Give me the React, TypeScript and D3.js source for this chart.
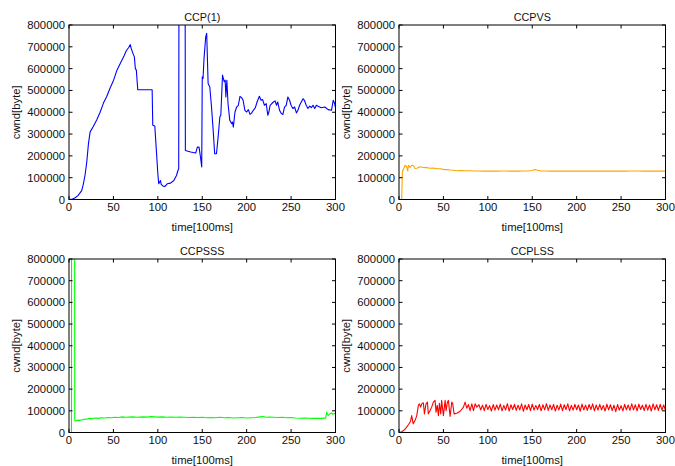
import React from "react";
import * as d3 from "d3";

// Axis ticks shared by all four panels
const timeTicks = [0, 50, 100, 150, 200, 250, 300];
const cwndTicks = [0, 100000, 200000, 300000, 400000, 500000, 600000, 700000, 800000];

// CCP(1)
const ccp1Time = [
  0, 4, 7, 10, 12, 14.3, 16.2, 18, 20, 21.9, 23.8, 27.5, 31.3, 35, 38.9, 42.6, 46.4, 50.2, 54, 57.7,
  61.5, 64.5, 67.2, 69, 70, 72, 73.6, 74.7, 75.8, 77.4, 93.6, 94.3, 96.6, 98.1, 100, 101, 103, 103.8,
  106, 108, 110.6, 114.3, 118, 121, 122.6, 123.5, 124, 130.5, 131, 137, 142.6, 144.5, 146.4, 148,
  149.4, 150, 150.9, 152, 153.9, 155, 156.6, 158.5, 160.4, 162.3, 164, 166, 167.9, 169.8, 170.9,
  172.8, 174.7, 175.8, 176.6, 177.7, 179, 181, 183, 184, 185, 186.8, 188.7, 190.6, 192.5, 194.3,
  196, 198, 200, 201.9, 203.8, 205.7, 207.5, 209.8, 211.7, 214.3, 216.2, 218, 220, 222, 223.8, 225,
  226.4, 228.3, 230.2, 232, 233.6, 235, 237, 239, 240.8, 242.6, 244.5, 246.4, 248.3, 250, 252, 254,
  256, 257.7, 259.6, 261.5, 263.4, 265, 267, 269, 271, 272.8, 274.7, 276.6, 278.5, 280.4, 284, 288,
  291.7, 295.5, 297.4, 299, 300,
];
const ccp1Cwnd = [
  0, 2000, 8000, 18000, 28000, 41000, 72000, 110000, 172000, 256000, 310000, 336000, 366000, 400000,
  443000, 473000, 512000, 547000, 593000, 624000, 654000, 682000, 697000, 710000, 693000, 670000,
  654000, 600000, 593000, 503000, 503000, 340000, 337000, 240000, 118000, 72000, 87000, 69000, 61000,
  60000, 72000, 75000, 87000, 110000, 133000, 140000, 1600000, 1600000, 225000, 218000, 213000,
  240000, 240000, 195000, 149000, 562000, 555000, 647000, 746000, 762000, 532000, 516000, 425000,
  317000, 210000, 210000, 287000, 378000, 386000, 570000, 540000, 547000, 470000, 547000, 440000,
  363000, 348000, 355000, 332000, 400000, 424000, 432000, 473000, 467000, 455000, 409000, 401000,
  412000, 390000, 397000, 409000, 421000, 447000, 473000, 455000, 458000, 432000, 440000, 386000,
  401000, 432000, 440000, 447000, 452000, 432000, 447000, 409000, 394000, 390000, 424000, 432000,
  470000, 455000, 432000, 417000, 424000, 397000, 409000, 432000, 447000, 462000, 455000, 432000,
  417000, 428000, 421000, 432000, 417000, 432000, 428000, 421000, 424000, 412000, 409000, 455000,
  440000, 421000,
];

// CCPVS
const ccpvsTime = [
  0, 3, 3.8, 5, 6.8, 8.6, 9.8, 10.5, 12.4, 14.3, 16, 18, 20, 23.7, 27.4, 31, 35, 39, 42.5, 46, 50,
  54, 57.5, 61, 65, 70, 75, 80, 85, 90, 95, 100, 105, 110, 115, 120, 125, 130, 135, 140, 145, 150,
  153, 156, 160, 165, 170, 175, 180, 185, 190, 195, 200, 205, 210, 215, 220, 225, 230, 235, 240,
  245, 250, 255, 260, 265, 270, 275, 280, 285, 290, 295, 300,
];
const ccpvsCwnd = [
  0, 0, 127000, 140000, 157000, 150000, 131000, 157000, 147000, 157000, 156000, 142000, 143000,
  150000, 147000, 146000, 143000, 144000, 141000, 141000, 138000, 137000, 135000, 134000, 132000,
  133000, 132000, 132000, 131000, 131000, 130000, 130000, 131000, 130000, 131000, 131000, 130000,
  131000, 130000, 131000, 131000, 133000, 138000, 134000, 131000, 131000, 130000, 131000, 130000,
  130000, 131000, 130000, 130000, 130000, 131000, 130000, 130000, 131000, 130000, 130000, 131000,
  130000, 131000, 130000, 131000, 131000, 131000, 130000, 131000, 130000, 130000, 131000, 130000,
];

// CCPSSS
const ccpsssTime = [
  0, 2.8, 3, 6.2, 6.5, 8, 10, 12, 14, 16, 18, 20, 22, 24, 26, 28, 30, 33, 36, 40, 44, 48, 52, 56,
  60, 64, 68, 72, 76, 80, 84, 88, 92, 96, 100, 105, 110, 115, 120, 125, 130, 135, 140, 145, 150,
  155, 160, 165, 170, 175, 180, 185, 190, 195, 200, 205, 210, 215, 218, 222, 226, 230, 235, 240,
  245, 250, 255, 260, 265, 270, 275, 280, 284, 287, 289, 290, 291.7, 293.5, 295.5, 297, 299, 300,
];
const ccpsssCwnd = [
  0, 0, 2000000, 2000000, 55000, 54000, 57000, 56000, 58000, 60000, 62000, 61000, 64000, 65000,
  63000, 66000, 67000, 65000, 68000, 67000, 69000, 68000, 70000, 69000, 72000, 70000, 71000, 72000,
  70000, 71000, 72000, 71000, 73000, 72000, 71000, 72000, 70000, 71000, 70000, 71000, 70000, 69000,
  70000, 69000, 70000, 68000, 69000, 68000, 70000, 68000, 69000, 67000, 68000, 69000, 67000, 68000,
  69000, 72000, 74000, 70000, 71000, 70000, 69000, 70000, 68000, 69000, 67000, 66000, 67000, 66000,
  65000, 66000, 65000, 67000, 66000, 94000, 78000, 85000, 90000, 84000, 88000, 86000,
];

// CCPLSS
const ccplssTime = [
  0, 3, 5, 7, 9, 11, 13, 14.3, 16, 18, 20, 21.8, 23, 24.4, 25.6, 27.4, 28.6, 30.4, 32, 33, 35, 36.8,
  38.7, 40.6, 41.7, 43, 44.4, 45.5, 47, 48, 50, 51.9, 53, 54.5, 55.6, 57.5, 59.4, 60.5, 62, 65, 68.8,
  72.6, 74.4, 76.3, 78.2, 80, 82, 83.8, 85.7, 87.6,
  90, 92, 94, 96, 98, 100, 102, 104, 106, 108, 110, 112, 114, 116, 118, 120, 122, 124, 126, 128,
  130, 132, 134, 136, 138, 140, 142, 144, 146, 148, 150, 152, 154, 156, 158, 160, 162, 164, 166, 168,
  170, 172, 174, 176, 178, 180, 182, 184, 186, 188, 190, 192, 194, 196, 198, 200, 202, 204, 206, 208,
  210, 212, 214, 216, 218, 220, 222, 224, 226, 228, 230, 232, 234, 236, 238, 240, 242, 244, 246, 248,
  250, 252, 254, 256, 258, 260, 262, 264, 266, 268, 270, 272, 274, 276, 278, 280, 282, 284, 286, 288,
  290, 292, 294, 296, 298, 300,
];
const ccplssCwnd = [
  0, 3000, 9000, 16000, 27000, 38000, 52000, 78000, 40000, 55000, 78000, 125000, 132000, 117000,
  132000, 137000, 86000, 132000, 140000, 86000, 101000, 117000, 140000, 148000, 94000, 125000, 78000,
  135000, 86000, 148000, 78000, 148000, 101000, 140000, 148000, 74000, 140000, 132000, 86000, 89000,
  98000, 117000, 140000, 112000, 129000, 101000, 132000, 101000, 132000, 117000,
  128000, 104000, 126000, 101000, 130000, 106000, 124000, 99000, 129000, 103000,
  127000, 105000, 131000, 100000, 125000, 104000, 133000, 99000, 128000, 106000,
  130000, 102000, 126000, 104000, 132000, 98000, 127000, 105000, 129000, 101000,
  131000, 103000, 125000, 106000, 130000, 100000, 128000, 104000, 133000, 102000,
  127000, 105000, 130000, 99000, 126000, 104000, 131000, 101000, 128000, 106000,
  132000, 100000, 125000, 103000, 130000, 105000, 127000, 98000, 131000, 104000,
  126000, 102000, 129000, 106000, 132000, 100000, 127000, 103000, 130000, 105000,
  125000, 99000, 131000, 104000, 128000, 101000, 126000, 96000, 129000, 103000,
  124000, 100000, 130000, 105000, 127000, 102000, 132000, 104000, 128000, 100000,
  131000, 106000, 126000, 101000, 130000, 103000, 127000, 99000, 132000, 105000,
  128000, 102000, 130000, 104000, 127000, 101000,
];

const W = 675;
const H = 466;
const FONT = "'Liberation Sans', Arial, Helvetica, sans-serif";

type PanelSpec = {
  id: string;
  title: string;
  color: string;
  time: number[];
  cwnd: number[];
  left: number;
  top: number;
  right: number;
  bottom: number;
};

const panels: PanelSpec[] = [
  { id: "p1", title: "CCP(1)", color: "#0000ff", time: ccp1Time, cwnd: ccp1Cwnd, left: 69, top: 25, right: 335.5, bottom: 199.5 },
  { id: "p2", title: "CCPVS", color: "#ffa500", time: ccpvsTime, cwnd: ccpvsCwnd, left: 399, top: 25, right: 665.5, bottom: 199.5 },
  { id: "p3", title: "CCPSSS", color: "#00ff00", time: ccpsssTime, cwnd: ccpsssCwnd, left: 69, top: 259, right: 335.5, bottom: 432.5 },
  { id: "p4", title: "CCPLSS", color: "#ff0000", time: ccplssTime, cwnd: ccplssCwnd, left: 399, top: 259, right: 665.5, bottom: 432.5 },
];

const TICK = 3.5;

function Panel({ p }: { p: PanelSpec }) {
  const x = d3.scaleLinear().domain([0, 300]).range([p.left, p.right]);
  const y = d3.scaleLinear().domain([0, 800000]).range([p.bottom, p.top]);
  const line = d3
    .line<number>()
    .x((_, i) => x(p.time[i]))
    .y((v) => y(v));
  const cx = (p.left + p.right) / 2;
  const cy = (p.top + p.bottom) / 2;
  return (
    <g>
      <defs>
        <clipPath id={`clip-${p.id}`}>
          <rect x={p.left} y={p.top} width={p.right - p.left} height={p.bottom - p.top} />
        </clipPath>
      </defs>
      <path
        d={line(p.cwnd) ?? ""}
        fill="none"
        stroke={p.color}
        strokeWidth={1.1}
        strokeLinejoin="round"
        clipPath={`url(#clip-${p.id})`}
      />
      {/* inward ticks on all four sides */}
      {timeTicks.map((t) => (
        <g key={`xt${t}`}>
          <line x1={x(t)} x2={x(t)} y1={p.bottom} y2={p.bottom - TICK} stroke="#000" />
          <line x1={x(t)} x2={x(t)} y1={p.top} y2={p.top + TICK} stroke="#000" />
          <text x={x(t)} y={p.bottom + 11} textAnchor="middle" fontSize={11.3} fontFamily={FONT} fill="#111">
            {t}
          </text>
        </g>
      ))}
      {cwndTicks.map((v) => (
        <g key={`yt${v}`}>
          <line x1={p.left} x2={p.left + TICK} y1={y(v)} y2={y(v)} stroke="#000" />
          <line x1={p.right} x2={p.right - TICK} y1={y(v)} y2={y(v)} stroke="#000" />
          <text x={p.left - 4} y={y(v) + 4} textAnchor="end" fontSize={11.3} fontFamily={FONT} fill="#111">
            {v}
          </text>
        </g>
      ))}
      <rect
        x={p.left}
        y={p.top}
        width={p.right - p.left}
        height={p.bottom - p.top}
        fill="none"
        stroke="#000"
        strokeWidth={1}
      />
      <text x={cx} y={p.top - 4} textAnchor="middle" fontSize={10.8} fontFamily={FONT} fill="#111">
        {p.title}
      </text>
      <text x={cx} y={p.bottom + 31} textAnchor="middle" fontSize={11.3} fontFamily={FONT} fill="#111">
        time[100ms]
      </text>
      <text
        transform={`translate(${p.left - 49},${cy}) rotate(-90)`}
        textAnchor="middle"
        fontSize={11.3}
        fontFamily={FONT}
        fill="#111"
      >
        cwnd[byte]
      </text>
    </g>
  );
}

export default function App() {
  return (
    <svg
      width={W}
      height={H}
      viewBox={`0 0 ${W} ${H}`}
      style={{ position: "absolute", left: 0, top: 0, background: "#fff" }}
    >
      <rect x={0} y={0} width={W} height={H} fill="#fff" />
      {panels.map((p) => (
        <Panel key={p.id} p={p} />
      ))}
    </svg>
  );
}
